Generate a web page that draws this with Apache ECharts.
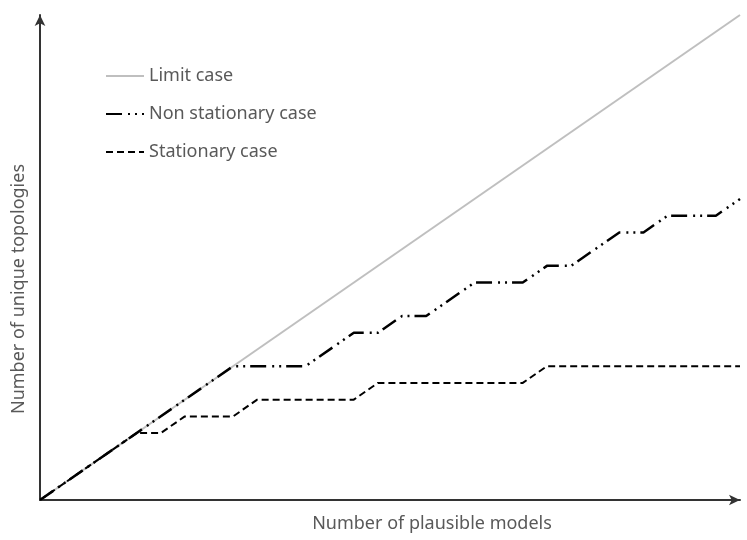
<!DOCTYPE html>
<html>
<head>
<meta charset="utf-8">
<script src="https://cdn.jsdelivr.net/npm/echarts@6/dist/echarts.min.js"></script>
<style>html,body{margin:0;padding:0;background:#fff;}#c{width:747px;height:540px;}</style>
</head>
<body>
<div id="c"></div>
<script>
var seriesNames = ['Limit case', 'Non stationary case', 'Stationary case'];
var limitCase = [[0, 0], [29, 29]];
var nonStationary = [[0,0],[8,8],[11,8],[13,10],[14,10],[15,11],[16,11],[18,13],[20,13],[21,14],[22,14],[24,16],[25,16],[26,17],[28,17],[29,18]];
var stationary = [[0,0],[4,4],[5,4],[6,5],[8,5],[9,6],[13,6],[14,7],[20,7],[21,8],[29,8]];
var xAxisName = 'Number of plausible models';
var yAxisName = 'Number of unique topologies';

var chart = echarts.init(document.getElementById('c'));
var FONT = 'Noto Sans';
var TXT = '#595959';
chart.setOption({
  animation: false,
  backgroundColor: '#fff',
  grid: {left: 40, right: 7, top: 15, bottom: 40},
  legend: {
    orient: 'vertical', left: 100, top: 61,
    itemWidth: 38, itemHeight: 14, itemGap: 18,
    itemStyle: {opacity: 0},
    textStyle: {fontFamily: FONT, fontSize: 18, color: TXT, lineHeight: 20},
    data: seriesNames
  },
  xAxis: {
    type: 'value', min: 0, max: 29,
    axisLine: {show: true, lineStyle: {color: '#333', width: 2}, symbol: ['none', 'arrow'], symbolSize: [8, 11]},
    axisTick: {show: false}, axisLabel: {show: false}, splitLine: {show: false}
  },
  yAxis: {
    type: 'value', min: 0, max: 29,
    axisLine: {show: true, lineStyle: {color: '#333', width: 2}, symbol: ['none', 'arrow'], symbolSize: [8, 11]},
    axisTick: {show: false}, axisLabel: {show: false}, splitLine: {show: false}
  },
  graphic: [
    {type: 'text', x: 432, y: 524, style: {text: xAxisName, fill: TXT, font: '18px "' + FONT + '"', align: 'center', verticalAlign: 'middle'}},
    {type: 'text', x: 19, y: 289, rotation: Math.PI / 2, style: {text: yAxisName, fill: TXT, font: '18px "' + FONT + '"', align: 'center', verticalAlign: 'middle'}}
  ],
  series: [
    {name: seriesNames[0], type: 'line', data: limitCase, symbol: 'none', z: 1,
     itemStyle: {color: '#bfbfbf'}, lineStyle: {color: '#bfbfbf', width: 2}},
    {name: seriesNames[1], type: 'line', data: nonStationary, symbol: 'none', z: 3,
     itemStyle: {color: '#000'}, lineStyle: {color: '#000', width: 2.5, type: [16, 6, 2, 5, 2, 5], cap: 'butt'}},
    {name: seriesNames[2], type: 'line', data: stationary, symbol: 'none', z: 2,
     itemStyle: {color: '#000'}, lineStyle: {color: '#000', width: 2, type: [7, 4], cap: 'butt'}}
  ]
});
</script>
</body>
</html>
